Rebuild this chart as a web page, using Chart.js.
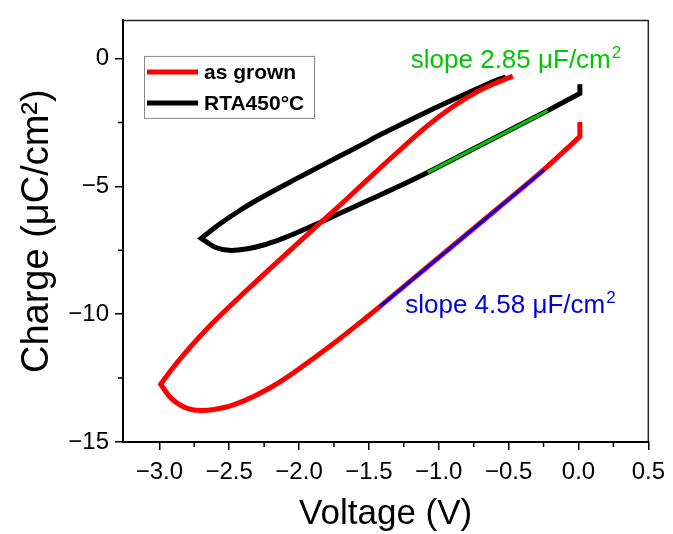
<!DOCTYPE html>
<html>
<head>
<meta charset="utf-8">
<script src="https://cdn.jsdelivr.net/npm/chart.js@4.4.1/dist/chart.umd.min.js"></script>
<style>
  body { margin: 0; background: #fff; }
  canvas { display: block; }
</style>
</head>
<body>
<canvas id="qvChart" width="673" height="534"></canvas>
<script>
// as grown loop: right end, lower branch down to the corner, then upper branch back up
// (corner points are listed twice so the smoothed line keeps them sharp)
const grownV = [0.01, 0.01, 0.01, -0.25, -0.6, -1.0, -1.42, -1.5, -1.76, -2.12, -2.3, -2.47, -2.6, -2.71, -2.8, -2.87, -2.93, -2.99, -2.99,
                -2.92, -2.83, -2.71, -2.59, -2.45, -2.31, -2.1, -1.88, -1.72, -1.5, -1.3, -1.08, -0.9, -0.72, -0.6, -0.47];
const grownQ = [-2.48, -3.05, -3.05, -4.35, -5.96, -7.78, -9.69, -10.05, -11.17, -12.59, -13.15, -13.55, -13.72, -13.77, -13.68, -13.49, -13.2, -12.74, -12.74,
                -12.22, -11.61, -10.87, -10.19, -9.45, -8.73, -7.68, -6.58, -5.8, -4.68, -3.68, -2.62, -1.88, -1.28, -0.97, -0.68];

// RTA450°C loop
const rtaV = [0.01, 0.01, 0.01, -0.22, -0.65, -1.08, -1.3, -1.5, -1.715, -1.85, -2.0, -2.13, -2.26, -2.38, -2.5, -2.6, -2.7, -2.7,
              -2.62, -2.54, -2.43, -2.31, -2.12, -1.93, -1.715, -1.56, -1.41, -1.12, -0.95, -0.77, -0.65, -0.58, -0.52];
const rtaQ = [-1.0, -1.36, -1.36, -2.03, -3.24, -4.45, -5.03, -5.53, -6.07, -6.41, -6.77, -7.06, -7.3, -7.45, -7.5, -7.38, -7.03, -7.03,
              -6.68, -6.36, -5.96, -5.56, -4.99, -4.44, -3.83, -3.39, -2.95, -2.17, -1.73, -1.28, -0.99, -0.83, -0.72];

// linear fits
const fitRtaV = [-1.08, -0.22];
const fitRtaQ = [-4.45, -2.03];
const fitGrownV = [-1.42, -0.246];
const fitGrownQ = [-9.69, -4.35];

const seriesNames = ['as grown', 'RTA450°C'];
const slopeLabels = ['slope 2.85 μF/cm', 'slope 4.58 μF/cm'];

const xTicks = [-3.0, -2.5, -2.0, -1.5, -1.0, -0.5, 0.0, 0.5];
const xMinor = [-2.75, -2.25, -1.75, -1.25, -0.75, -0.25, 0.25];
const yTicks = [-15, -10, -5, 0];
const yMinor = [-12.5, -7.5, -2.5];

const pts = (xs, ys) => xs.map((x, i) => ({ x: x, y: ys[i] }));
const fmt = (v, d) => (v < 0 ? '\u2212' : '') + Math.abs(v).toFixed(d);

const FONT = '"Liberation Sans", Arial, sans-serif';
const GREEN = 'rgb(0, 200, 0)';
const BLUE = 'rgb(0, 0, 225)';

// text with a raised "2" after it
function labelWithSquare(ctx, text, x, y) {
  ctx.font = '26px ' + FONT;
  ctx.fillText(text, x, y);
  const w = ctx.measureText(text).width;
  ctx.font = '17px ' + FONT;
  ctx.fillText('2', x + w + 1, y - 10);
}

const extras = {
  id: 'extras',
  afterDatasetsDraw(chart) {
    const { ctx, scales: { x, y } } = chart;
    ctx.save();
    ctx.textAlign = 'left';
    ctx.textBaseline = 'alphabetic';
    ctx.fillStyle = GREEN;
    labelWithSquare(ctx, slopeLabels[0], x.getPixelForValue(-1.2), y.getPixelForValue(-0.36));
    ctx.fillStyle = BLUE;
    labelWithSquare(ctx, slopeLabels[1], x.getPixelForValue(-1.24), y.getPixelForValue(-9.95));
    ctx.restore();
  },
  afterDraw(chart) {
    const { ctx, chartArea: a, scales: { x, y } } = chart;
    ctx.save();
    // minor ticks
    ctx.strokeStyle = '#000';
    ctx.lineWidth = 1.5;
    ctx.beginPath();
    xMinor.forEach(v => {
      const px = x.getPixelForValue(v);
      ctx.moveTo(px, a.bottom);
      ctx.lineTo(px, a.bottom + 5);
    });
    yMinor.forEach(v => {
      const py = y.getPixelForValue(v);
      ctx.moveTo(a.left, py);
      ctx.lineTo(a.left - 5, py);
    });
    ctx.stroke();

    // top and right frame
    ctx.strokeStyle = '#222';
    ctx.lineWidth = 1.5;
    ctx.beginPath();
    ctx.moveTo(a.left, a.top);
    ctx.lineTo(a.right, a.top);
    ctx.lineTo(a.right, a.bottom);
    ctx.stroke();

    // legend box
    const bx = a.left + 21, by = a.top + 35.5, bw = 170, bh = 62;
    ctx.fillStyle = '#fff';
    ctx.fillRect(bx, by, bw, bh);
    ctx.strokeStyle = '#888';
    ctx.lineWidth = 1;
    ctx.strokeRect(bx + 0.5, by + 0.5, bw, bh);
    ctx.font = 'bold 21px ' + FONT;
    ctx.textBaseline = 'middle';
    ctx.textAlign = 'left';
    [0, 1].forEach(i => {
      const ds = chart.data.datasets[i];
      const ly = by + 16 + i * 31;
      ctx.strokeStyle = ds.borderColor;
      ctx.lineWidth = 5;
      ctx.beginPath();
      ctx.moveTo(bx + 3, ly);
      ctx.lineTo(bx + 54, ly);
      ctx.stroke();
      ctx.fillStyle = '#000';
      ctx.fillText(ds.label, bx + 60, ly + 1);
    });
    ctx.restore();
  }
};

new Chart(document.getElementById('qvChart'), {
  type: 'scatter',
  data: {
    datasets: [
      { label: seriesNames[0], data: pts(grownV, grownQ), borderColor: 'rgb(255, 0, 0)', borderWidth: 5, order: 2, tension: 0.3 },
      { label: seriesNames[1], data: pts(rtaV, rtaQ), borderColor: '#000', borderWidth: 5, order: 3, tension: 0.3 },
      { label: 'fit RTA', data: pts(fitRtaV, fitRtaQ), borderColor: GREEN, borderWidth: 3, order: 1, tension: 0 },
      { label: 'fit grown', data: pts(fitGrownV, fitGrownQ), borderColor: BLUE, borderWidth: 3, order: 1, tension: 0 }
    ].map(ds => Object.assign(ds, { showLine: true, pointRadius: 0, fill: false }))
  },
  options: {
    responsive: false,
    animation: false,
    devicePixelRatio: 1,
    layout: { padding: { top: 15, right: 21, left: 0, bottom: 0 } },
    plugins: { legend: { display: false }, tooltip: { enabled: false } },
    scales: {
      x: {
        type: 'linear',
        min: -3.26,
        max: 0.5,
        afterBuildTicks: s => { s.ticks = xTicks.map(v => ({ value: v })); },
        afterFit: s => { s.height = 92; },
        grid: { drawOnChartArea: false, color: '#000', lineWidth: 1.5, tickLength: 8 },
        border: { color: '#000', width: 2 },
        ticks: {
          color: '#000', padding: 8, maxRotation: 0, autoSkip: false,
          font: { family: FONT, size: 24 },
          callback: v => fmt(v, 1)
        },
        title: {
          display: true, text: 'Voltage (V)', color: '#000',
          font: { family: FONT, size: 35, lineHeight: 1 }, padding: { bottom: 2, top: 0 }
        }
      },
      y: {
        type: 'linear',
        min: -15,
        max: 1.5,
        afterBuildTicks: s => { s.ticks = yTicks.map(v => ({ value: v })); },
        afterFit: s => { s.width = 123; },
        grid: { drawOnChartArea: false, color: '#000', lineWidth: 1.5, tickLength: 8 },
        border: { color: '#000', width: 2 },
        ticks: {
          color: '#000', padding: 6, autoSkip: false,
          font: { family: FONT, size: 24 },
          callback: v => fmt(v, 0)
        },
        title: {
          display: true, text: 'Charge (μC/cm²)', color: '#000',
          font: { family: FONT, size: 38, lineHeight: 1 }, padding: { top: 19, bottom: 0 }
        }
      }
    }
  },
  plugins: [extras]
});
</script>
</body>
</html>
